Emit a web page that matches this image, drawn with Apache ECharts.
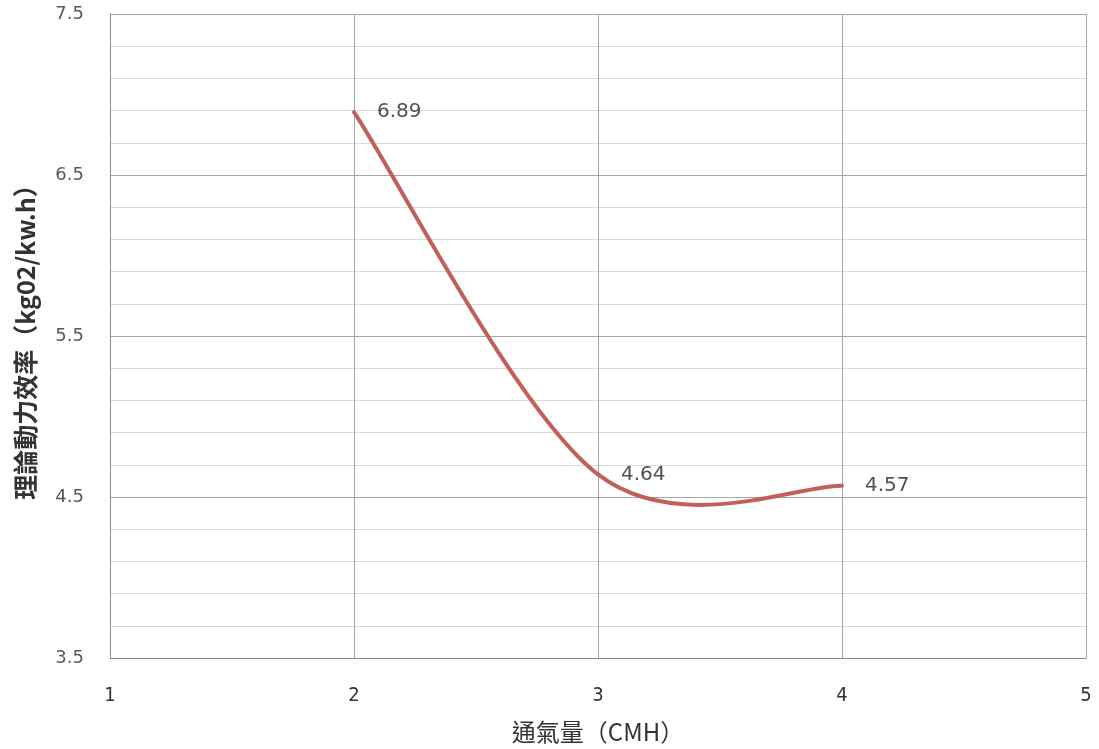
<!DOCTYPE html>
<html><head><meta charset="utf-8">
<script src="https://cdn.jsdelivr.net/npm/echarts@6/dist/echarts.min.js"></script>
<style>html,body{margin:0;padding:0;background:#fff}#c{width:1099px;height:749px}</style>
</head><body><div id="c"></div>
<script>
const airflow = [2, 3, 4];
const efficiency = [6.89, 4.64, 4.57];
const xTitle = '通氣量（CMH）';
const yTitle = '理論動力效率（kg02/kw.h）';

const pts = airflow.map((x, i) => [x, efficiency[i]]);

// Excel-like smoothed line (Catmull-Rom Bezier) built through the axis scales
function renderSegment(params, api) {
  const i = params.dataIndex;
  if (i >= pts.length - 1) return null;
  const P = pts.map(p => api.coord(p));
  const p0 = P[Math.max(i - 1, 0)], p1 = P[i], p2 = P[i + 1], p3 = P[Math.min(i + 2, P.length - 1)];
  const k = 1 / 6;
  return {
    type: 'bezierCurve',
    shape: {
      x1: p1[0], y1: p1[1], x2: p2[0], y2: p2[1],
      cpx1: p1[0] + (p2[0] - p0[0]) * k, cpy1: p1[1] + (p2[1] - p0[1]) * k,
      cpx2: p2[0] - (p3[0] - p1[0]) * k, cpy2: p2[1] - (p3[1] - p1[1]) * k
    },
    style: {stroke: '#c0605a', lineWidth: 4, fill: null, lineCap: 'round'}
  };
}

const chart = echarts.init(document.getElementById('c'));
chart.setOption({
  animation: false,
  grid: {left: 110, right: 13, top: 14, bottom: 91, outerBoundsMode: 'none', containLabel: false},
  xAxis: {
    type: 'value', min: 1, max: 5, interval: 1,
    name: xTitle, nameLocation: 'middle', nameGap: 62,
    nameTextStyle: {fontFamily: 'Noto Sans CJK TC', fontSize: 24, color: '#333'},
    axisLine: {show: true, lineStyle: {color: '#888'}},
    axisTick: {show: false},
    axisLabel: {margin: 28, fontFamily: 'Liberation Sans Narrow, DejaVu Sans Condensed, sans-serif', fontSize: 20, color: '#333'},
    splitLine: {show: true, lineStyle: {color: '#a6a6a6', width: 1}}
  },
  yAxis: {
    type: 'value', min: 3.5, max: 7.5, interval: 1,
    name: yTitle, nameLocation: 'middle', nameGap: 72, nameRotate: 90,
    nameTextStyle: {fontFamily: 'Noto Sans CJK TC', fontSize: 25, fontWeight: 'bold', color: '#333'},
    axisLine: {show: true, lineStyle: {color: '#888'}},
    axisTick: {show: false},
    axisLabel: {margin: 26, fontFamily: 'DejaVu Sans', fontSize: 18, color: '#595959',
      formatter: v => v.toFixed(1)},
    splitLine: {show: true, lineStyle: {color: '#a6a6a6', width: 1}},
    minorTick: {show: false, splitNumber: 5},
    minorSplitLine: {show: true, lineStyle: {color: '#d9d9d9', width: 1}}
  },
  series: [{
    type: 'custom',
    data: pts,
    renderItem: renderSegment,
    silent: true
  }, {
    type: 'scatter',
    data: pts,
    symbolSize: 2,
    itemStyle: {color: 'rgba(0,0,0,0)'},
    label: {show: true, position: 'right', distance: 22,
      fontFamily: 'DejaVu Sans', fontSize: 20, color: '#262626',
      formatter: p => p.value[1].toFixed(2)}
  }]
});
</script></body></html>
